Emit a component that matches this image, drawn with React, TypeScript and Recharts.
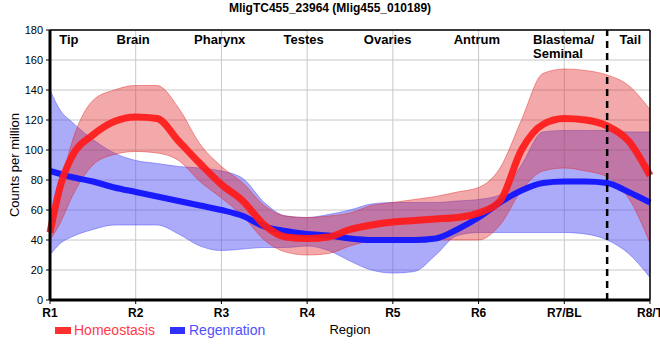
import React from "react";
import {
  Area,
  CartesianGrid,
  ComposedChart,
  Line,
  ReferenceDot,
  ReferenceLine,
  XAxis,
  YAxis,
} from "recharts";

// positions along the body (1 = R1 ... 8 = R8/T)
const xPos = [
  1, 1.125, 1.25, 1.5, 1.75, 2, 2.25, 2.5, 2.75, 3, 3.25, 3.5, 3.75, 4, 4.25,
  4.5, 4.75, 5, 5.25, 5.5, 5.75, 6, 6.25, 6.5, 6.75, 7, 7.25, 7.5, 7.75, 8,
];
const tickLabels = ["R1", "R2", "R3", "R4", "R5", "R6", "R7/BL", "R8/T"];

const homeo = [
  45, 77, 95, 110, 119, 122, 121, 106, 91, 77, 66, 50, 42, 41, 42, 47, 50, 52,
  53, 54, 55, 58, 66, 100, 117, 121, 120, 116, 106, 83,
];
const homeoHi = [
  49, 77, 104, 133, 140, 143, 143, 128, 104, 89, 78, 63, 56, 55, 56, 58, 63, 65,
  67, 69, 72, 75, 88, 120, 151, 154, 153, 150, 143, 127,
];
const homeoLo = [
  40, 52, 68, 90, 97, 99, 98, 93, 79, 68, 56, 40, 32, 30, 31, 36, 39, 39, 40,
  40, 40, 40, 50, 73, 86, 88, 86, 82, 68, 38,
];

const regen = [
  86, 84, 82, 79, 75, 72, 69, 66, 63, 60, 56, 49, 46, 44, 43, 41, 40, 40, 40,
  41, 47, 55, 65, 73, 78, 79, 79, 78, 72, 65,
];
const regenHi = [
  140, 126, 119, 107, 98, 93, 91, 89, 88, 86, 81, 65, 56, 55, 57, 60, 64, 65,
  65, 65, 66, 67, 70, 90, 112, 113, 113, 113, 112, 112,
];
const regenLo = [
  30, 38, 42, 47, 50, 50, 50, 44, 36, 33, 34, 35, 35, 36, 33, 26, 20, 18, 19,
  30, 43, 45, 45, 45, 45, 45, 44, 40, 31, 15,
];

const regionNames = [
  "Tip",
  "Brain",
  "Pharynx",
  "Testes",
  "Ovaries",
  "Antrum",
  "Blastema/\nSeminal",
  "Tail",
];
const regionX = [1.22, 1.97, 2.98, 3.96, 4.94, 5.98, 6.635, 7.77];

const data = xPos.map((x, i) => ({
  x,
  homeo: homeo[i],
  homeoBand: [homeoLo[i], homeoHi[i]],
  regen: regen[i],
  regenBand: [regenLo[i], regenHi[i]],
}));

const FONT = '"Liberation Sans", Arial, sans-serif';

function RegionText({ cx, cy, name }: { cx: number; cy: number; name: string }) {
  const lines = name.split("\n");
  const anchor = lines.length > 1 ? "start" : "middle";
  return (
    <text
      x={cx}
      y={cy + 14}
      textAnchor={anchor}
      fontSize={13}
      fontWeight="bold"
      fill="#000"
      fontFamily={FONT}
    >
      {lines.map((l, i) => (
        <tspan key={i} x={cx} dy={i === 0 ? 0 : 14}>
          {l}
        </tspan>
      ))}
    </text>
  );
}

export default function App() {
  return (
    <div
      style={{
        position: "absolute",
        left: 0,
        top: 0,
        width: 660,
        height: 360,
        fontFamily: FONT,
        background: "#fff",
      }}
    >
      <div
        style={{
          position: "absolute",
          top: 1,
          left: 0,
          width: 660,
          textAlign: "center",
          fontSize: 12,
          fontWeight: "bold",
          lineHeight: "14px",
        }}
      >
        MligTC455_23964 (Mlig455_010189)
      </div>
      <ComposedChart
        width={660}
        height={360}
        data={data}
        margin={{ top: 30, right: 10, bottom: 0, left: 0 }}
      >
        <CartesianGrid stroke="#c8c8c8" strokeWidth={1} />
        <XAxis
          dataKey="x"
          type="number"
          domain={[1, 8]}
          ticks={[1, 2, 3, 4, 5, 6, 7, 8]}
          tickFormatter={(v) => tickLabels[Math.round(v) - 1]}
          height={60}
          tickSize={4}
          tickMargin={4}
          axisLine={{ stroke: "#000", strokeWidth: 3 }}
          tickLine={{ stroke: "#000" }}
          tick={{ fontSize: 12, fontWeight: "bold", fill: "#000" }}
          interval={0}
          label={{
            value: "Region",
            position: "insideTop",
            offset: 25,
            fontSize: 13,
            fill: "#000",
          }}
        />
        <YAxis
          domain={[0, 180]}
          ticks={[0, 20, 40, 60, 80, 100, 120, 140, 160, 180]}
          width={50}
          tickSize={4}
          tickMargin={3}
          axisLine={{ stroke: "#000", strokeWidth: 3 }}
          tickLine={{ stroke: "#000" }}
          tick={{ fontSize: 11, fill: "#000" }}
          label={{
            value: "Counts per million",
            angle: -90,
            position: "insideLeft",
            offset: 14,
            fontSize: 13,
            fill: "#000",
            style: { textAnchor: "middle" },
          }}
        />
        <Area
          dataKey="regenBand"
          type="monotone"
          fill="#4f4ff5"
          fillOpacity={0.48}
          stroke="#4f4ff5"
          strokeOpacity={0.5}
          strokeWidth={1}
          dot={false}
          activeDot={false}
          isAnimationActive={false}
        />
        <Line
          dataKey="regen"
          type="monotone"
          stroke="#1a1aff"
          strokeWidth={6}
          dot={false}
          activeDot={false}
          isAnimationActive={false}
        />
        <Area
          dataKey="homeoBand"
          type="monotone"
          fill="#e02828"
          fillOpacity={0.4}
          stroke="#e02828"
          strokeOpacity={0.45}
          strokeWidth={1}
          dot={false}
          activeDot={false}
          isAnimationActive={false}
        />
        <Line
          dataKey="homeo"
          type="monotone"
          stroke="#ff1a1a"
          strokeOpacity={0.92}
          strokeWidth={7}
          dot={false}
          activeDot={false}
          isAnimationActive={false}
        />
        <ReferenceLine y={180} stroke="#000" strokeWidth={1.5} />
        <ReferenceLine x={8} stroke="#000" strokeWidth={1.5} />
        <ReferenceLine
          x={7.5}
          stroke="#000"
          strokeWidth={2.5}
          strokeDasharray="7 5"
        />
        {regionNames.map((name, i) => (
          <ReferenceDot
            key={name}
            x={regionX[i]}
            y={180}
            r={0}
            ifOverflow="visible"
            shape={(p: any) => <RegionText cx={p.cx} cy={p.cy} name={name} />}
          />
        ))}
      </ComposedChart>
      <div
        style={{
          position: "absolute",
          left: 55,
          top: 327,
          width: 16,
          height: 7,
          background: "#ff3030",
        }}
      />
      <div
        style={{
          position: "absolute",
          left: 74,
          top: 322,
          fontSize: 14,
          color: "#ff3a48",
          lineHeight: "16px",
        }}
      >
        Homeostasis
      </div>
      <div
        style={{
          position: "absolute",
          left: 170,
          top: 327,
          width: 15,
          height: 7,
          background: "#3030ff",
        }}
      />
      <div
        style={{
          position: "absolute",
          left: 189,
          top: 322,
          fontSize: 14,
          color: "#5050ff",
          lineHeight: "16px",
        }}
      >
        Regenration
      </div>
    </div>
  );
}
